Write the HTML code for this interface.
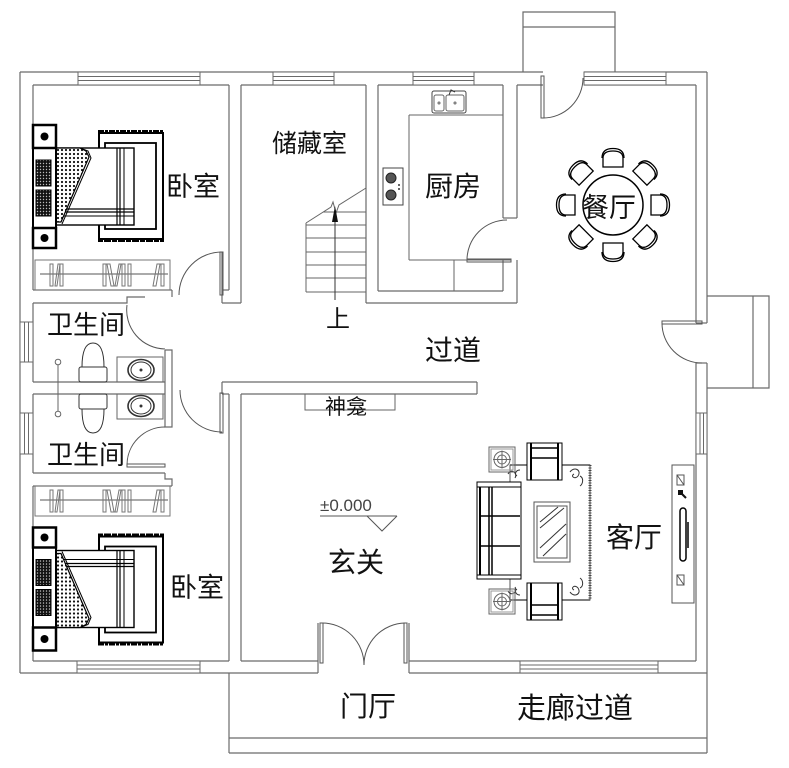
<!DOCTYPE html>
<html><head><meta charset="utf-8"><style>
html,body{margin:0;padding:0;background:#fff;}
svg{display:block;}
text{font-family:"Liberation Sans","Noto Sans CJK SC",sans-serif;fill:#111;}
</style></head><body>
<svg width="789" height="768" viewBox="0 0 789 768" xmlns="http://www.w3.org/2000/svg">
<defs>
<pattern id="dots" width="4" height="4" patternUnits="userSpaceOnUse"><rect width="4" height="4" fill="#fff"/><circle cx="2" cy="2" r="1.1" fill="#111"/></pattern>
<pattern id="dk" width="3" height="3" patternUnits="userSpaceOnUse"><rect width="3" height="3" fill="#111"/><circle cx="1.5" cy="1.5" r="0.7" fill="#bbb"/></pattern>
<g id="bed">
  <line x1="98" y1="132" x2="164" y2="132" stroke="#000" stroke-width="4" stroke-dasharray="6 1 3 1"/>
  <line x1="98" y1="240" x2="164" y2="240" stroke="#000" stroke-width="4" stroke-dasharray="5 1 7 1"/>
  <rect x="99" y="133" width="64" height="106" fill="none" stroke="#000" stroke-width="2"/>
  <rect x="105" y="143" width="51" height="86" fill="none" stroke="#000" stroke-width="1.8"/>
  <rect x="56" y="148" width="78" height="77" fill="#fff" stroke="#000" stroke-width="1.4"/>
  <line x1="117" y1="148" x2="117" y2="225" stroke="#000" stroke-width="1.2"/>
  <line x1="120" y1="148" x2="120" y2="225" stroke="#000" stroke-width="1.2"/>
  <line x1="124" y1="148" x2="124" y2="225" stroke="#000" stroke-width="1"/>
  <line x1="56" y1="209" x2="134" y2="209" stroke="#000" stroke-width="1.2"/>
  <line x1="56" y1="212" x2="134" y2="212" stroke="#000" stroke-width="1.2"/>
  <line x1="56" y1="216" x2="134" y2="216" stroke="#000" stroke-width="1"/>
  <polygon points="56,148 80,148 86,151 89,157 61,222 56,222" fill="url(#dots)" stroke="#000" stroke-width="1.2"/>
  <polyline points="80,148 88,151 91,158 62,224" fill="none" stroke="#000" stroke-width="1"/>
  <rect x="33" y="148" width="23" height="80" fill="#fff" stroke="#000" stroke-width="2"/>
  <rect x="36" y="160" width="15" height="26" fill="url(#dk)" stroke="#000" stroke-width="1"/>
  <rect x="36" y="190" width="15" height="26" fill="url(#dk)" stroke="#000" stroke-width="1"/>
  <rect x="33" y="125" width="23" height="23" fill="#fff" stroke="#000" stroke-width="2.5"/>
  <rect x="33" y="228" width="23" height="20" fill="#fff" stroke="#000" stroke-width="2.5"/>
  <circle cx="44.5" cy="136.5" r="4" fill="#000"/>
  <circle cx="44.5" cy="238" r="4" fill="#000"/>
</g>
<g id="closet" fill="none" stroke="#777" stroke-width="1">
  <rect x="35" y="0" width="135" height="30"/>
  <line x1="40" y1="14" x2="168" y2="14" stroke="#555"/>
  <rect x="50" y="4" width="3" height="22"/>
  <polygon points="55,26 58,4 60,4 57,26"/>
  <rect x="60" y="4" width="3" height="22"/>
  <rect x="103" y="4" width="3" height="22"/>
  <polygon points="107,4 110,4 114,26 111,26"/>
  <polygon points="115,26 119,4 121,4 117,26"/>
  <rect x="122" y="4" width="3" height="22"/>
  <rect x="128" y="4" width="3" height="22"/>
  <polygon points="153,26 157,4 160,4 156,26"/>
  <rect x="161" y="4" width="3" height="22"/>
</g>
<g id="bathfix" fill="none" stroke="#333" stroke-width="1">
  <rect x="79" y="367" width="28" height="15" rx="2"/>
  <path d="M82 367 C82 350 86 343 93 343 C100 343 104 350 104 367"/>
  <rect x="117" y="357" width="46" height="25" stroke="#666"/>
  <ellipse cx="141" cy="370" rx="13" ry="10.5" stroke-width="1.6"/>
  <ellipse cx="141" cy="370" rx="10" ry="8"/>
  <circle cx="141" cy="370" r="1" fill="#333"/>
  <circle cx="58" cy="362" r="2.8" stroke="#666"/>
</g>
<g id="chair" fill="#fff" stroke="#000" stroke-width="1.3">
  <path d="M-10 8 L-10 -1 Q-10 -8 0 -8 Q10 -8 10 -1 L10 8 Z"/>
  <path d="M-11 -1 Q-11 -10.5 0 -10.5 Q11 -10.5 11 -1" fill="none"/>
</g>
<g id="sidetable" fill="none" stroke="#666" stroke-width="1">
  <rect x="0" y="0" width="26" height="25"/>
  <rect x="2" y="2" width="22" height="21" stroke="#999"/>
  <circle cx="13" cy="12.5" r="8"/>
  <circle cx="13" cy="12.5" r="4.5"/>
  <line x1="4" y1="12.5" x2="22" y2="12.5"/>
  <line x1="13" y1="3.5" x2="13" y2="21.5"/>
</g>
<g id="armchair" fill="#fff" stroke="#000">
  <rect x="0" y="0" width="35" height="37" stroke-width="1"/>
  <line x1="4" y1="0" x2="4" y2="37" stroke-width="2"/>
  <line x1="31" y1="0" x2="31" y2="37" stroke-width="2"/>
  <line x1="4" y1="5" x2="31" y2="5" stroke-width="1.5"/>
  <line x1="4" y1="15" x2="31" y2="15" stroke-width="1.5"/>
</g>
</defs>

<rect width="789" height="768" fill="#fff"/>

<g fill="none" stroke="#6a6a6a" stroke-width="1.2">
  <line x1="20" y1="72" x2="543" y2="72"/>
  <line x1="584" y1="72" x2="707" y2="72"/>
  <polyline points="523,72 523,12 615,12 615,72"/>
  <line x1="523" y1="27" x2="615" y2="27"/>
  <line x1="33" y1="85" x2="229" y2="85"/>
  <line x1="241" y1="85" x2="366" y2="85"/>
  <line x1="378" y1="85" x2="503" y2="85"/>
  <line x1="517" y1="85" x2="543" y2="85"/>
  <line x1="584" y1="85" x2="696" y2="85"/>
  <line x1="20" y1="72" x2="20" y2="673"/>
  <line x1="33" y1="85" x2="33" y2="290"/>
  <line x1="33" y1="303" x2="33" y2="382"/>
  <line x1="33" y1="394" x2="33" y2="473"/>
  <line x1="33" y1="486" x2="33" y2="661"/>
  <line x1="33" y1="290" x2="172" y2="290"/>
  <polyline points="33,303 127,303 127,297 145,297"/>
  <line x1="172" y1="290" x2="172" y2="297"/>
  <polyline points="165,350 165,427 172,427 172,350 165,350"/>
  <line x1="33" y1="382" x2="165" y2="382"/>
  <line x1="33" y1="394" x2="165" y2="394"/>
  <line x1="33" y1="473" x2="165" y2="473"/>
  <polyline points="165,473 165,479 172,479 172,486"/>
  <line x1="33" y1="486" x2="172" y2="486"/>
  <line x1="229" y1="85" x2="229" y2="290"/>
  <line x1="222" y1="290" x2="229" y2="290"/>
  <line x1="222" y1="252" x2="222" y2="303"/>
  <line x1="222" y1="303" x2="241" y2="303"/>
  <line x1="241" y1="85" x2="241" y2="303"/>
  <line x1="366" y1="85" x2="366" y2="303"/>
  <line x1="378" y1="85" x2="378" y2="291"/>
  <line x1="378" y1="291" x2="503" y2="291"/>
  <line x1="366" y1="303" x2="517" y2="303"/>
  <line x1="503" y1="85" x2="503" y2="218"/>
  <line x1="517" y1="85" x2="517" y2="218"/>
  <line x1="503" y1="218" x2="517" y2="218"/>
  <line x1="517" y1="260" x2="517" y2="303"/>
  <line x1="503" y1="260" x2="503" y2="291"/>
  <line x1="222" y1="382" x2="477" y2="382"/>
  <line x1="241" y1="394" x2="477" y2="394"/>
  <line x1="477" y1="382" x2="477" y2="394"/>
  <line x1="222" y1="382" x2="222" y2="394"/>
  <line x1="222" y1="394" x2="229" y2="394"/>
  <line x1="229" y1="394" x2="229" y2="661"/>
  <line x1="241" y1="394" x2="241" y2="661"/>
  <line x1="33" y1="661" x2="229" y2="661"/>
  <line x1="241" y1="661" x2="318" y2="661"/>
  <line x1="20" y1="673" x2="318" y2="673"/>
  <line x1="318" y1="623" x2="318" y2="673"/>
  <line x1="409" y1="623" x2="409" y2="673"/>
  <line x1="409" y1="661" x2="696" y2="661"/>
  <line x1="409" y1="673" x2="707" y2="673"/>
  <line x1="696" y1="85" x2="696" y2="323"/>
  <line x1="696" y1="363" x2="696" y2="661"/>
  <line x1="707" y1="72" x2="707" y2="323"/>
  <line x1="707" y1="363" x2="707" y2="753"/>
  <line x1="696" y1="323" x2="707" y2="323"/>
  <line x1="696" y1="363" x2="707" y2="363"/>
  <polyline points="707,296 769,296 769,388 707,388"/>
  <line x1="753" y1="296" x2="753" y2="388"/>
  <line x1="229" y1="673" x2="229" y2="753"/>
  <line x1="229" y1="738" x2="707" y2="738"/>
  <line x1="229" y1="753" x2="707" y2="753"/>
</g>

<g fill="#fff" stroke="#6a6a6a" stroke-width="1">
  <rect x="78" y="72" width="122" height="13"/><line x1="78" y1="76.5" x2="200" y2="76.5"/><line x1="78" y1="80.5" x2="200" y2="80.5"/>
  <rect x="273" y="72" width="61" height="13"/><line x1="273" y1="76.5" x2="334" y2="76.5"/><line x1="273" y1="80.5" x2="334" y2="80.5"/>
  <rect x="413" y="72" width="61" height="13"/><line x1="413" y1="76.5" x2="474" y2="76.5"/><line x1="413" y1="80.5" x2="474" y2="80.5"/>
  <rect x="584" y="72" width="82" height="13"/><line x1="584" y1="76.5" x2="666" y2="76.5"/><line x1="584" y1="80.5" x2="666" y2="80.5"/>
  <rect x="77" y="661" width="123" height="12"/><line x1="77" y1="665" x2="200" y2="665"/><line x1="77" y1="669" x2="200" y2="669"/>
  <rect x="520" y="661" width="138" height="12"/><line x1="520" y1="665" x2="658" y2="665"/><line x1="520" y1="669" x2="658" y2="669"/>
  <rect x="20" y="322" width="13" height="40"/><line x1="24.5" y1="322" x2="24.5" y2="362"/><line x1="28.5" y1="322" x2="28.5" y2="362"/>
  <rect x="20" y="413" width="13" height="41"/><line x1="24.5" y1="413" x2="24.5" y2="454"/><line x1="28.5" y1="413" x2="28.5" y2="454"/>
  <rect x="696" y="413" width="11" height="41"/><line x1="700" y1="413" x2="700" y2="454"/><line x1="703.5" y1="413" x2="703.5" y2="454"/>
</g>

<g fill="none" stroke="#555" stroke-width="1">
  <rect x="541" y="76" width="3" height="42"/>
  <path d="M543 118 A40 40 0 0 0 583 78"/>
  <rect x="467" y="259" width="44" height="3"/>
  <path d="M507 220 A40 40 0 0 0 467 260"/>
  <rect x="220" y="252" width="3" height="43"/>
  <path d="M222 252 A43 43 0 0 0 179 295"/>
  <rect x="220" y="393" width="3" height="40"/>
  <path d="M222 432 A42 42 0 0 1 180 390"/>
  <path d="M127 305 A39 39 0 0 0 165 349"/>
  <rect x="127" y="464" width="38" height="3"/>
  <path d="M165 427 A38 38 0 0 0 127 465"/>
  <rect x="662" y="321" width="40" height="3"/>
  <path d="M662 323 A40 40 0 0 0 702 363"/>
  <rect x="320" y="623" width="3" height="40"/>
  <rect x="404" y="623" width="3" height="40"/>
  <path d="M322 623 A42 42 0 0 1 364 665"/>
  <path d="M405 623 A42 42 0 0 0 364 665"/>
</g>

<use href="#closet" transform="translate(0 260)"/>
<use href="#closet" transform="translate(0 486)"/>

<use href="#bed"/>
<use href="#bed" transform="translate(0 775.5) scale(1 -1)"/>

<use href="#bathfix"/>
<use href="#bathfix" transform="translate(0 776) scale(1 -1)"/>
<line x1="58" y1="365" x2="58" y2="411" stroke="#666" stroke-width="1"/>

<g fill="none" stroke="#666" stroke-width="1">
  <line x1="409" y1="115" x2="503" y2="115"/>
  <line x1="409" y1="115" x2="409" y2="260"/>
  <line x1="409" y1="260" x2="511" y2="260"/>
  <line x1="454" y1="260" x2="454" y2="291"/>
  <rect x="432" y="91" width="34" height="22" rx="2" stroke="#444"/>
  <rect x="434" y="95" width="10" height="16" rx="2"/>
  <rect x="446" y="95" width="18" height="16" rx="2"/>
  <circle cx="439" cy="103" r="1"/><circle cx="455" cy="103" r="1"/>
  <path d="M449 95 L451 90 L455 92" stroke="#333"/>
  <rect x="383" y="168" width="20" height="37" stroke="#444"/>
</g>
<circle cx="391" cy="178" r="5" fill="#555" stroke="#222"/>
<circle cx="391" cy="195" r="5" fill="#555" stroke="#222"/>
<circle cx="399" cy="185" r="1" fill="#333"/><circle cx="399" cy="189" r="1" fill="#333"/>

<g fill="none" stroke="#666" stroke-width="1">
  <line x1="306" y1="223" x2="306" y2="292"/>
  <polyline points="306,223 331,207 333,202 336,213 339,205 366,188"/>
  <line x1="323" y1="212" x2="366" y2="212"/>
  <line x1="306" y1="225" x2="366" y2="225"/>
  <line x1="306" y1="238" x2="366" y2="238"/>
  <line x1="306" y1="252" x2="366" y2="252"/>
  <line x1="306" y1="265" x2="366" y2="265"/>
  <line x1="306" y1="278" x2="366" y2="278"/>
  <line x1="306" y1="292" x2="366" y2="292"/>
  <line x1="335" y1="212" x2="335" y2="300" stroke="#333"/>
</g>
<polygon points="335,206 332,222 338,222" fill="#111"/>

<rect x="305" y="394" width="90" height="16" fill="none" stroke="#666" stroke-width="1"/>

<line x1="320" y1="516" x2="397" y2="516" stroke="#555" stroke-width="1"/>
<polyline points="367,516 382,531 397,516" fill="none" stroke="#555" stroke-width="1"/>

<circle cx="613" cy="205" r="30" fill="none" stroke="#000" stroke-width="1.5"/>
<use href="#chair" transform="translate(613 205) rotate(0) translate(0 -46)"/>
<use href="#chair" transform="translate(613 205) rotate(45) translate(0 -46)"/>
<use href="#chair" transform="translate(613 205) rotate(90) translate(0 -46)"/>
<use href="#chair" transform="translate(613 205) rotate(135) translate(0 -46)"/>
<use href="#chair" transform="translate(613 205) rotate(180) translate(0 -46)"/>
<use href="#chair" transform="translate(613 205) rotate(225) translate(0 -46)"/>
<use href="#chair" transform="translate(613 205) rotate(270) translate(0 -46)"/>
<use href="#chair" transform="translate(613 205) rotate(315) translate(0 -46)"/>

<g fill="none" stroke="#555" stroke-width="1">
  <rect x="510" y="465" width="80" height="135"/>
  <line x1="590" y1="465" x2="590" y2="600" stroke="#444" stroke-width="3" stroke-dasharray="1 1.5"/>
  <line x1="510" y1="465" x2="590" y2="465" stroke-width="1.5"/>
  <line x1="510" y1="600" x2="590" y2="600" stroke-width="1.5"/>
  <path d="M570 472 c4 -6 12 -2 8 4 c-3 4 -8 0 -4 -2 M580 476 c4 2 3 8 0 10 M515 478 c3 -5 -4 -10 -7 -4 M520 470 c-4 0 -6 4 -3 6 M570 592 c4 6 12 2 8 -4 c-3 -4 -8 0 -4 2 M580 588 c4 -2 3 -8 0 -10 M515 587 c3 5 -4 10 -7 4 M520 595 c-4 0 -6 -4 -3 -6" stroke="#333"/>
  <rect x="534" y="502" width="36" height="60" fill="#fff"/>
  <rect x="537" y="506" width="30" height="52"/>
  <line x1="540" y1="522" x2="558" y2="507" stroke="#333"/>
  <line x1="540" y1="528" x2="564" y2="508" stroke="#333"/>
  <line x1="540" y1="548" x2="566" y2="524" stroke="#333"/>
  <line x1="543" y1="556" x2="566" y2="534" stroke="#333"/>
</g>
<use href="#sidetable" transform="translate(489 447)"/>
<use href="#sidetable" transform="translate(489 589)"/>
<use href="#armchair" transform="translate(527 443)"/>
<use href="#armchair" transform="translate(527 620) scale(1 -1)"/>
<g fill="#fff" stroke="#000">
  <rect x="477" y="482" width="44" height="97" stroke-width="1"/>
  <line x1="480" y1="487" x2="480" y2="575" stroke-width="2"/>
  <line x1="489" y1="487" x2="489" y2="575" stroke-width="1.5"/>
  <line x1="492" y1="487" x2="492" y2="575" stroke-width="1.5"/>
  <line x1="477" y1="487" x2="521" y2="487" stroke-width="1"/>
  <line x1="477" y1="575" x2="521" y2="575" stroke-width="1"/>
  <line x1="480" y1="516" x2="520" y2="516" stroke-width="1.5"/>
  <line x1="480" y1="546" x2="520" y2="546" stroke-width="1.5"/>
</g>

<g fill="none" stroke="#555" stroke-width="1">
  <rect x="672" y="465" width="22" height="138"/>
  <rect x="677" y="475" width="7" height="10"/><line x1="677" y1="475" x2="684" y2="485"/>
  <rect x="677" y="575" width="7" height="10"/><line x1="677" y1="575" x2="684" y2="585"/>
  <rect x="680" y="508" width="6" height="53" rx="3" stroke="#000" stroke-width="1.5"/>
  <line x1="688" y1="522" x2="688" y2="548" stroke="#000" stroke-width="1.5"/>
</g>
<rect x="678" y="490" width="5" height="5" fill="#111"/>
<line x1="682" y1="494" x2="686" y2="498" stroke="#111" stroke-width="2"/>

<text x="166" y="196" font-size="27">卧室</text>
<text x="272" y="152" font-size="25">储藏室</text>
<text x="425" y="196" font-size="28">厨房</text>
<text x="582" y="217" font-size="27">餐厅</text>
<text x="47" y="334" font-size="26">卫生间</text>
<text x="47" y="464" font-size="26">卫生间</text>
<text x="326" y="327" font-size="24">上</text>
<text x="425" y="360" font-size="28">过道</text>
<text x="325" y="414" font-size="21">神龛</text>
<text x="320" y="511" font-size="17" style="fill:#444">±0.000</text>
<text x="328" y="572" font-size="28">玄关</text>
<text x="170" y="597" font-size="27">卧室</text>
<text x="340" y="716" font-size="28">门厅</text>
<text x="606" y="547" font-size="28">客厅</text>
<text x="517" y="718" font-size="29">走廊过道</text>
</svg>
</body></html>
